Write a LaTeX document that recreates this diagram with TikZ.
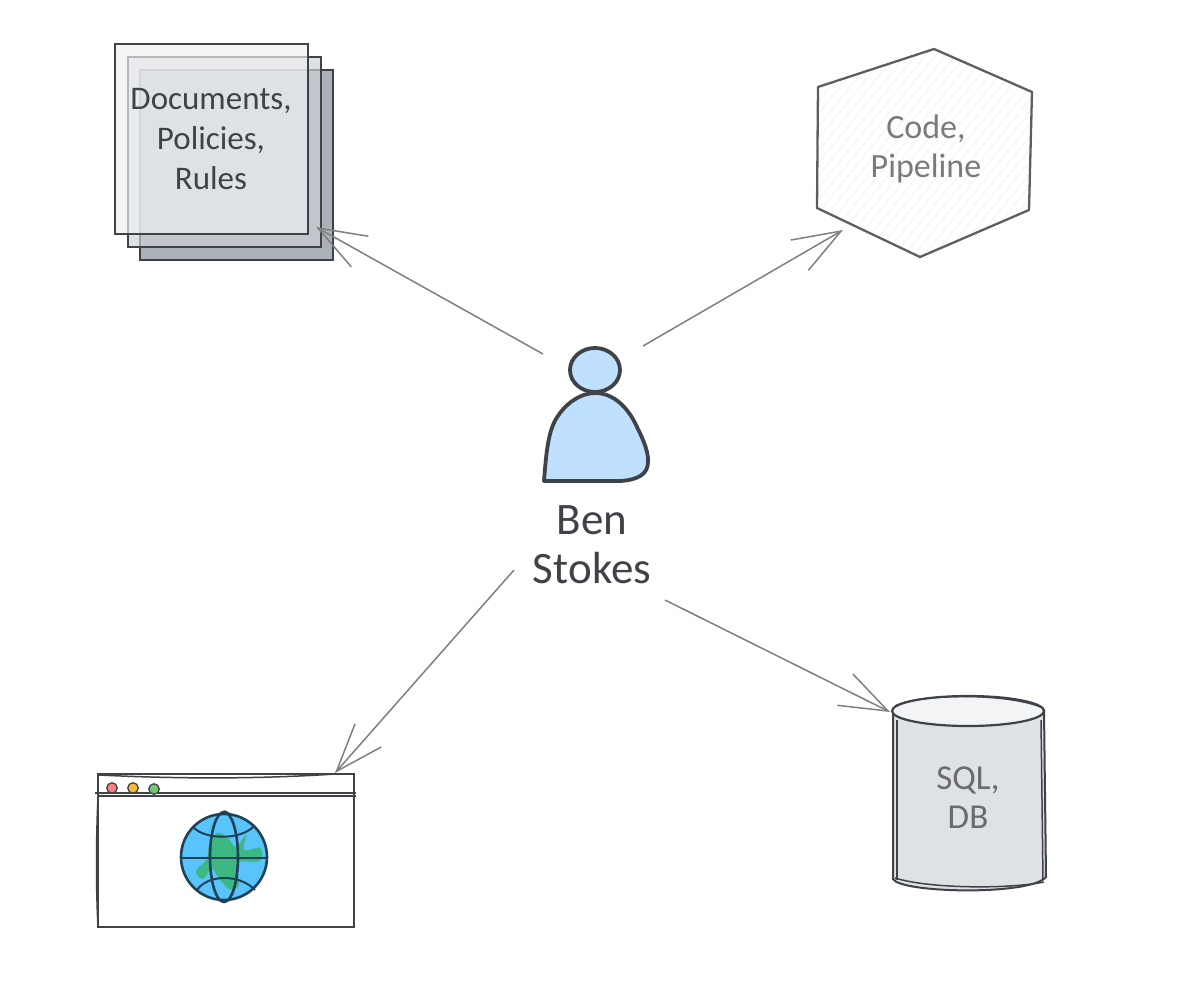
\documentclass[tikz,border=0pt]{standalone}
\usepackage{fontspec}
\setmainfont{Carlito}
\usetikzlibrary{arrows.meta,shapes.geometric}
\definecolor{ink}{HTML}{3F4247}
\definecolor{flowgray}{HTML}{7F7F7F}
\definecolor{sheetfront}{HTML}{EEEFF1}
\definecolor{sheetmid}{HTML}{CED2D7}
\definecolor{sheetback}{HTML}{ABB1B9}
\definecolor{dbfill}{HTML}{DEE2E6}
\definecolor{dbtop}{HTML}{F3F4F6}
\definecolor{personblue}{HTML}{BFE0FF}
\definecolor{globeblue}{HTML}{58C4FB}
\definecolor{globeink}{HTML}{1F4258}
\definecolor{landgreen}{HTML}{3CB882}
\tikzset{sheet/.style={rectangle,draw=ink,line width=2pt,minimum width=193pt,minimum height=190pt,inner sep=0pt}}
\tikzset{t/.style={align=center,inner sep=0pt,text=ink}}
\tikzset{flow/.style={draw=flowgray,line width=1.5pt,-{Straight Barb[length=48pt,width=35pt]}}}
\tikzset{sketch/.style={draw=ink,line width=1.5pt}}
\tikzset{dot/.style={circle,draw=ink,line width=1.3pt,minimum size=10.5pt,inner sep=0pt}}

\begin{document}
\begin{tikzpicture}[x=1pt,y=-1pt]
      \useasboundingbox (0,0) rectangle (1194,1000);
      % stacked sheets
      \node[sheet,fill=sheetback] (D3) at (236.5,165) {};
      \node[sheet,fill=sheetmid,fill opacity=.67] (D2) at (224.5,152.5) {};
      \node[sheet,fill=sheetfront,fill opacity=.68] (D1) at (211,139.5) {};
      \node[t,font=\fontsize{33}{40}\selectfont] (docs) at (211,139) {Documents,\\Policies,\\Rules};
      % hexagon
      \begin{scope}
        \clip (818,87) -- (934,49) -- (1032,92) -- (1029,210) -- (920,257) -- (817,208) -- cycle;
        \foreach \x in {640,650,...,1040}
          \draw[black!5,line width=.8pt] (\x,260) -- (\x+170,50);
      \end{scope}
      \draw[draw=ink!85,line width=2.3pt,line join=round] (818,87) -- (934,49) -- (1032,92) -- (1029,210) -- (920,257) -- (817,208) -- cycle;
      \node[t,text=black!52,font=\fontsize{34}{39}\selectfont] (code) at (926,149) {Code,\\Pipeline};
      % person
      \draw[fill=personblue,draw=ink,line width=3.8pt,line join=round] (544,481) .. controls (546,455) and (548,432) .. (556,419) .. controls (566,402) and (582,393) .. (595,393) .. controls (614,393) and (627,408) .. (634,421) .. controls (640,433) and (649,450) .. (648,462) .. controls (648,474) and (638,480) .. (620,481) -- cycle;
      \node[ellipse,draw=ink,fill=personblue,line width=3.8pt,minimum width=50pt,minimum height=44pt,inner sep=0pt] (head) at (595,370) {};
      \node[t,font=\fontsize{45}{49}\selectfont] (ben) at (592,545) {Ben\\Stokes};
      % browser
      \node[rectangle,sketch,fill=white,minimum width=256pt,minimum height=153pt,inner sep=0pt] (win) at (226,850.5) {};
      \draw[sketch] (95,793) -- (356,793);
      \draw[sketch] (97,796) -- (356,796);
      \draw[sketch] (99,775) .. controls (180,779) and (260,779) .. (335,774);
      \draw[sketch] (98,797) .. controls (96,840) and (96,890) .. (98,926);
      \node[dot,fill=red!50] (red) at (112,788) {};
      \node[dot,fill=orange!70!yellow!80] (yel) at (133,788) {};
      \node[dot,fill=green!60!black!55] (grn) at (154,789) {};
      \draw[draw=black!55,line width=1.5pt] (212,818) -- (225,811) -- (238,818);
      \node[circle,draw=globeink,fill=globeblue,line width=2.6pt,minimum size=86pt,inner sep=0pt] (globe) at (224,857) {};
      \fill[landgreen] plot[smooth cycle,tension=.6] coordinates {(209,846) (217,833) (228,838) (236,847) (246,835) (244,850) (260,848) (260,861) (238,863) (239,884) (231,890) (220,880) (212,869) (203,879) (196,871) (207,859)};
      \draw[globeink,line width=2.6pt] (globe.center) ellipse (14 and 45);
      \draw[globeink,line width=2.6pt] (181,858) -- (268,858);
      \draw[globeink,line width=2pt] (193,827) .. controls (205,840) and (240,840) .. (253,827);
      \draw[globeink,line width=2pt] (197,890) .. controls (208,874) and (240,874) .. (255,890);
      % database
      \draw[fill=dbfill,draw=ink,line width=2pt] (893,710) -- (893,879) .. controls (900,893) and (1030,896) .. (1046,877) -- (1044,710) -- cycle;
      \draw[sketch] (897,720) -- (897,880);
      \draw[sketch] (1041,720) -- (1043,880);
      \draw[sketch] (895,878) .. controls (930,889) and (1010,889) .. (1044,882);
      \draw[fill=dbtop,draw=ink,line width=2.2pt] (968,711) ellipse (76 and 15);
      \draw[sketch] (895,706) .. controls (920,693) and (1010,693) .. (1043,708);
      \node[t,text=black!58,font=\fontsize{35}{39}\selectfont] (db) at (968,798) {SQL,\\DB};
      % connector ends
      \coordinate (p1) at (543,354);
      \coordinate (p2) at (643,346);
      \coordinate (p3) at (514,570);
      \coordinate (p4) at (665,600);
      \coordinate (e1) at (316,227);
      \coordinate (e2) at (843,230);
      \coordinate (e3) at (335,773);
      \coordinate (e4) at (890,712);
      \foreach \a/\b in {p1/e1,p2/e2,p3/e3,p4/e4}
        \draw[flow] (\a) -- (\b);
    \end{tikzpicture}
\end{document}
